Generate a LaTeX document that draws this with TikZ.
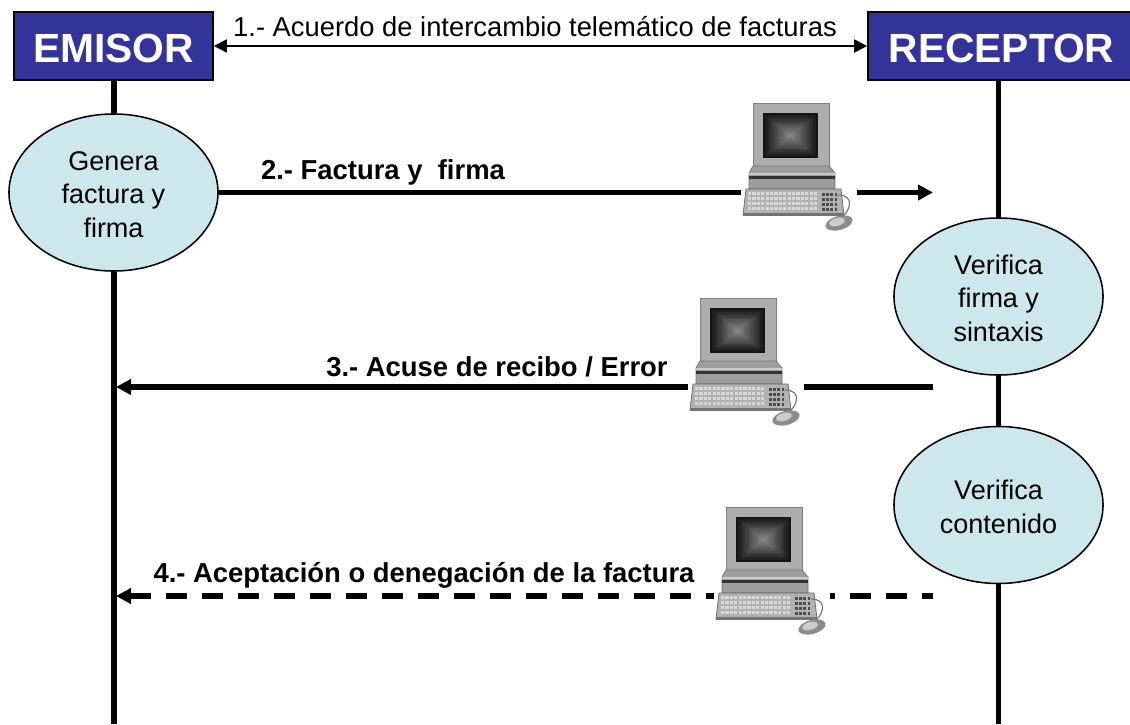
\documentclass[tikz,border=0pt]{standalone}
\usepackage{fontspec}
\setmainfont{Liberation Sans}
\usetikzlibrary{arrows.meta}
\definecolor{boxblue}{HTML}{333399}
\definecolor{ovalblue}{HTML}{CCE8EC}
\newcommand{\ovalstrut}{\rule{0pt}{16.5pt}}
\tikzset{
    actor/.style={draw=black, line width=1.1pt, fill=boxblue, text=white, minimum height=1.7cm,
        font=\fontsize{29}{32}\selectfont\bfseries, execute at begin node=\rule{0pt}{24pt}},
    oval/.style={ellipse, draw=black, line width=1.1pt, fill=ovalblue, minimum width=5.225cm,
        minimum height=3.925cm, inner sep=0pt, align=center, font=\fontsize{19.2}{23.5}\selectfont},
    lifeline/.style={line width=3.9pt},
    msg/.style={line width=3.9pt, -{Triangle[length=0.375cm, width=0.375cm]}},
    dashmsg/.style={msg, dash pattern=on 0.525cm off 0.375cm, dash phase=0.25cm},
    biglabel/.style={font=\fontsize{19.5}{23}\selectfont\bfseries},
    computer/.pic={
        % white gap in the line behind the keyboard
        \fill[white] (-2,76) rectangle (114,128);
        % monitor
        \fill[black!32] (10,0) rectangle (86,63);
        \draw[black!50, line width=0.6pt] (10,0) rectangle (86,63);
        \foreach \i in {0,...,11}
            \fill[black!\the\numexpr 92-4*\i\relax] (20+2.3*\i,10+1.9*\i) rectangle (75-2.3*\i,55-1.9*\i);
        % base
        \fill[black!38] (10,63) -- (86,63) -- (92,70) -- (92,86) -- (6,86) -- (6,70) -- cycle;
        \draw[black!55, line width=0.5pt] (10,63) -- (86,63) -- (92,70) -- (92,86) -- (6,86) -- (6,70) -- cycle;
        \fill[black!80] (6,73) rectangle (92,75.5);
        \fill[black!20] (6,70) rectangle (92,72);
        % keyboard
        \fill[black!30] (3,86) -- (98,86) -- (101,112) -- (0,112) -- cycle;
        \draw[black!60, line width=0.5pt] (3,86) -- (98,86) -- (101,112) -- (0,112) -- cycle;
        \fill[black!55] (0,110) rectangle (101,113);
        \foreach \r in {0,1,2,3}
            \foreach \k in {0,...,15}
                \fill[black!\ifodd\k 70\else 15\fi] (5+4.4*\k,89+5*\r) rectangle +(3.2,3);
        \foreach \r in {0,1,2,3}
            \foreach \k in {0,1,2,3}
                \fill[black!70] (79+4.2*\k,90+5*\r) rectangle +(2.8,3);
        % mouse and cable
        \draw[black!55, line width=0.8pt] (95,92) .. controls (112,92) and (108,108) .. (97,116);
        \fill[black!45, rotate around={15:(96,120)}] (96,120) ellipse (14 and 7);
        \fill[black!20, rotate around={15:(94,119)}] (94,119) ellipse (8 and 4);
    }
}
\usetikzlibrary{shapes.geometric}
\begin{document}
\begin{tikzpicture}[x=0.025cm, y=-0.025cm]
    \useasboundingbox (0,0) rectangle (1130,724);
    % actors
    \node[actor, minimum width=4.975cm] (emisor) at (113.5,46) {EMISOR};
    \node[actor, minimum width=6.675cm] (receptor) at (1001.5,46) {RECEPTOR};
    % states
    \node[oval] (genera) at (113.5,192.5) {\ovalstrut Genera\\factura y\\firma};
    \node[oval] (verFirma) at (998.5,296.5) {\ovalstrut Verifica\\firma y\\sintaxis};
    \node[oval] (verCont) at (998.5,505) {\ovalstrut Verifica\\contenido};
    % ends of the lines
    \coordinate (emisorEnd) at (114,724);
    \coordinate (receptorEnd) at (998.5,724);
    \coordinate (fin2) at (933,192.5);
    \coordinate (ini3) at (933,387);
    \coordinate (fin3) at (116,387);
    \coordinate (ini4) at (933,596);
    \coordinate (fin4) at (116,596);
    % life lines
    \draw[lifeline] (emisor.south -| emisorEnd) -- (genera.north -| emisorEnd);
    \draw[lifeline] (genera.south -| emisorEnd) -- (emisorEnd);
    \draw[lifeline] (receptor.south -| receptorEnd) -- (verFirma.north);
    \draw[lifeline] (verFirma.south) -- (verCont.north);
    \draw[lifeline] (verCont.south) -- (receptorEnd);
    % messages
    \draw[{Triangle[length=0.325cm, width=0.325cm]}-{Triangle[length=0.325cm, width=0.325cm]}, line width=1.4pt] (emisor.east) -- (receptor.west);
    \draw[msg] (genera.east) -- (fin2);
    \draw[msg] (ini3) -- (fin3);
    \draw[dashmsg] (ini4) -- (fin4);
    % computers
    \pic (pcA) at (743,103) {computer};
    \pic (pcB) at (690,298) {computer};
    \pic (pcC) at (716,507) {computer};
    % labels
    \node[font=\fontsize{19.45}{23}\selectfont] (lab1) at (535,27) {1.- Acuerdo de intercambio telemático de facturas};
    \node[biglabel] (lab2) at (383,172) {2.- Factura y~ firma};
    \node[biglabel] (lab3) at (497,367) {3.- Acuse de recibo / Error};
    \node[biglabel] (lab4) at (424,575) {4.- Aceptación o denegación de la factura};
\end{tikzpicture}
\end{document}
